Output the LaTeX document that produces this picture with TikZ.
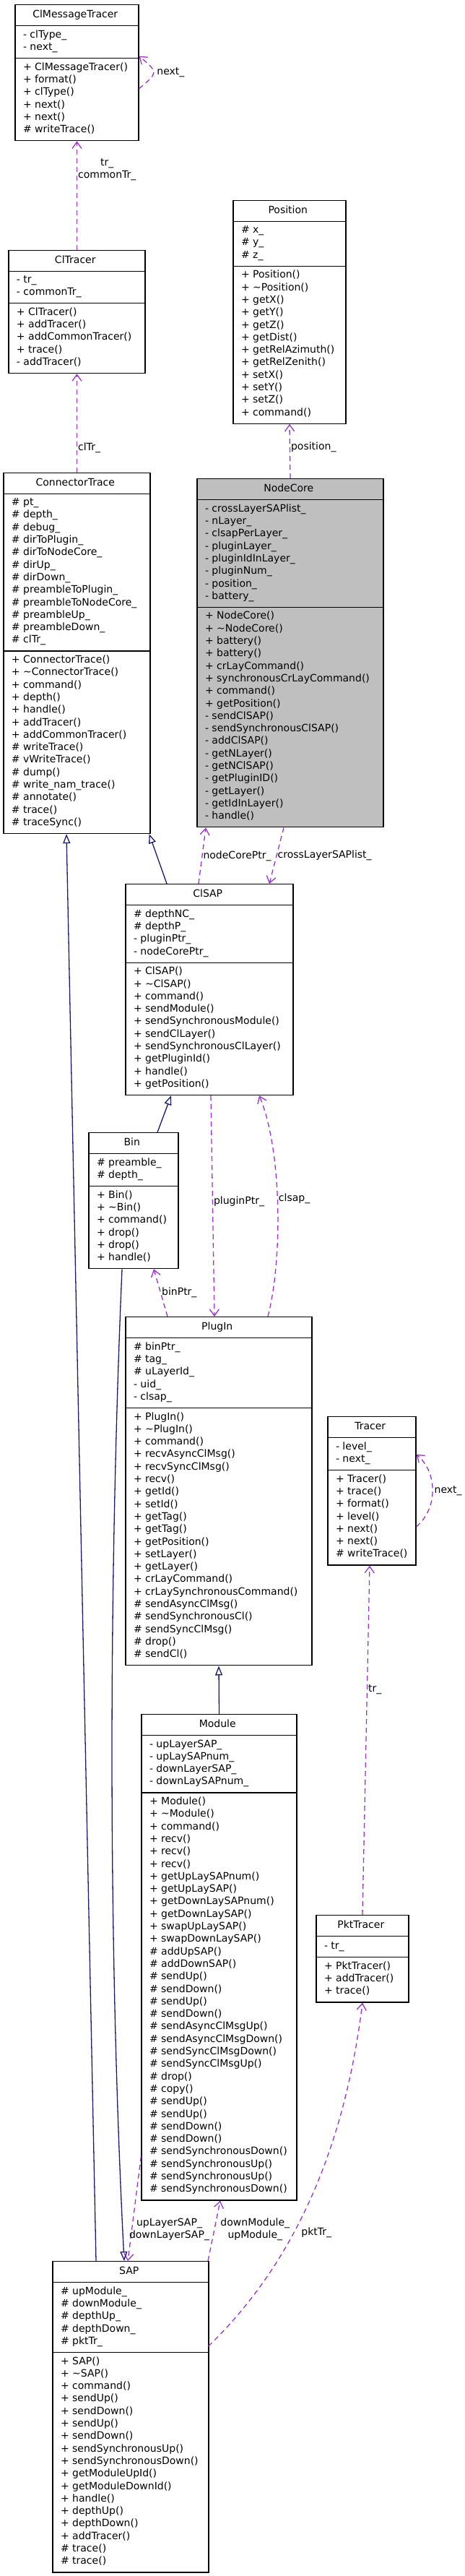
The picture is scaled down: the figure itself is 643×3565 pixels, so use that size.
\documentclass[tikz,border=0pt]{standalone}
\usepackage{fontspec}
\setmainfont{DejaVu Sans}
\usetikzlibrary{shapes.multipart, arrows.meta}
\definecolor{usecol}{HTML}{9A32CD}
\definecolor{inhcol}{HTML}{191970}
\newcommand{\umlfont}{\fontsize{14}{17.3}\selectfont}

\begin{document}
\begin{tikzpicture}[
    x=1pt, y=-1pt,
    cls/.style={draw, line width=1.2pt, fill=white, anchor=north,
                rectangle split, rectangle split parts=3,
                rectangle split part align={center, left, left},
                align=left, inner xsep=11pt, inner ysep=5.3pt,
                minimum width=#1, font=\umlfont,
                execute at begin node=\strut, execute at end node=\strut},
    usg/.style={usecol, line width=1.3pt, dash pattern=on 7pt off 5pt,
                -{Straight Barb[length=9pt, width=13pt]}},
    inh/.style={inhcol, line width=1.3pt,
                -{Triangle[open, length=13pt, width=10pt]}},
    lbl/.style={font=\umlfont, text=black, inner sep=1pt, align=center}
  ]
  \useasboundingbox (0, 0) rectangle (643, 3565);

  \node[cls=171pt] (cmt) at (106.5, 6) {ClMessageTracer
    \nodepart{two}- clType\_\\- next\_
    \nodepart{three}+ ClMessageTracer()\\+ format()\\+ clType()\\+ next()\\+ next()\\\# writeTrace()};
  \node[cls=189pt] (clt) at (106.5, 346) {ClTracer
    \nodepart{two}- tr\_\\- commonTr\_
    \nodepart{three}+ ClTracer()\\+ addTracer()\\+ addCommonTracer()\\+ trace()\\- addTracer()};
  \node[cls=156pt] (pos) at (401, 277) {Position
    \nodepart{two}\# x\_\\\# y\_\\\# z\_
    \nodepart{three}+ Position()\\+ \textasciitilde Position()\\+ getX()\\+ getY()\\+ getZ()\\+ getDist()\\+ getRelAzimuth()\\+ getRelZenith()\\+ setX()\\+ setY()\\+ setZ()\\+ command()};
  \node[cls=203pt] (ct) at (106.5, 654) {ConnectorTrace
    \nodepart{two}\# pt\_\\\# depth\_\\\# debug\_\\\# dirToPlugin\_\\\# dirToNodeCore\_\\\# dirUp\_\\\# dirDown\_\\\# preambleToPlugin\_\\\# preambleToNodeCore\_\\\# preambleUp\_\\\# preambleDown\_\\\# clTr\_
    \nodepart{three}+ ConnectorTrace()\\+ \textasciitilde ConnectorTrace()\\+ command()\\+ depth()\\+ handle()\\+ addTracer()\\+ addCommonTracer()\\\# writeTrace()\\\# vWriteTrace()\\\# dump()\\\# write\_nam\_trace()\\\# annotate()\\\# trace()\\\# traceSync()};
  \node[cls=258pt, fill=gray!50] (nc) at (402, 662) {NodeCore
    \nodepart{two}- crossLayerSAPlist\_\\- nLayer\_\\- clsapPerLayer\_\\- pluginLayer\_\\- pluginIdInLayer\_\\- pluginNum\_\\- position\_\\- battery\_
    \nodepart{three}+ NodeCore()\\+ \textasciitilde NodeCore()\\+ battery()\\+ battery()\\+ crLayCommand()\\+ synchronousCrLayCommand()\\+ command()\\+ getPosition()\\- sendClSAP()\\- sendSynchronousClSAP()\\- addClSAP()\\- getNLayer()\\- getNClSAP()\\- getPluginID()\\- getLayer()\\- getIdInLayer()\\- handle()};
  \node[cls=232pt] (clsap) at (290, 1223) {ClSAP
    \nodepart{two}\# depthNC\_\\\# depthP\_\\- pluginPtr\_\\- nodeCorePtr\_
    \nodepart{three}+ ClSAP()\\+ \textasciitilde ClSAP()\\+ command()\\+ sendModule()\\+ sendSynchronousModule()\\+ sendClLayer()\\+ sendSynchronousClLayer()\\+ getPluginId()\\+ handle()\\+ getPosition()};
  \node[cls=124pt] (bin) at (185, 1567) {Bin
    \nodepart{two}\# preamble\_\\\# depth\_
    \nodepart{three}+ Bin()\\+ \textasciitilde Bin()\\+ command()\\+ drop()\\+ drop()\\+ handle()};
  \node[cls=258pt] (plugin) at (303, 1822) {PlugIn
    \nodepart{two}\# binPtr\_\\\# tag\_\\\# uLayerId\_\\- uid\_\\- clsap\_
    \nodepart{three}+ PlugIn()\\+ \textasciitilde PlugIn()\\+ command()\\+ recvAsyncClMsg()\\+ recvSyncClMsg()\\+ recv()\\+ getId()\\+ setId()\\+ getTag()\\+ getTag()\\+ getPosition()\\+ setLayer()\\+ getLayer()\\+ crLayCommand()\\+ crLaySynchronousCommand()\\\# sendAsyncClMsg()\\\# sendSynchronousCl()\\\# sendSyncClMsg()\\\# drop()\\\# sendCl()};
  \node[cls=122pt] (tracer) at (515, 1960) {Tracer
    \nodepart{two}- level\_\\- next\_
    \nodepart{three}+ Tracer()\\+ trace()\\+ format()\\+ level()\\+ next()\\+ next()\\\# writeTrace()};
  \node[cls=215pt] (module) at (303.5, 2372) {Module
    \nodepart{two}- upLayerSAP\_\\- upLaySAPnum\_\\- downLayerSAP\_\\- downLaySAPnum\_
    \nodepart{three}+ Module()\\+ \textasciitilde Module()\\+ command()\\+ recv()\\+ recv()\\+ recv()\\+ getUpLaySAPnum()\\+ getUpLaySAP()\\+ getDownLaySAPnum()\\+ getDownLaySAP()\\+ swapUpLaySAP()\\+ swapDownLaySAP()\\\# addUpSAP()\\\# addDownSAP()\\\# sendUp()\\\# sendDown()\\\# sendUp()\\\# sendDown()\\\# sendAsyncClMsgUp()\\\# sendAsyncClMsgDown()\\\# sendSyncClMsgDown()\\\# sendSyncClMsgUp()\\\# drop()\\\# copy()\\\# sendUp()\\\# sendUp()\\\# sendDown()\\\# sendDown()\\\# sendSynchronousDown()\\\# sendSynchronousUp()\\\# sendSynchronousUp()\\\# sendSynchronousDown()};
  \node[cls=128pt] (pkttr) at (502, 2650) {PktTracer
    \nodepart{two}- tr\_
    \nodepart{three}+ PktTracer()\\+ addTracer()\\+ trace()};
  \node[cls=216pt] (sap) at (181, 3129) {SAP
    \nodepart{two}\# upModule\_\\\# downModule\_\\\# depthUp\_\\\# depthDown\_\\\# pktTr\_
    \nodepart{three}+ SAP()\\+ \textasciitilde SAP()\\+ command()\\+ sendUp()\\+ sendDown()\\+ sendUp()\\+ sendDown()\\+ sendSynchronousUp()\\+ sendSynchronousDown()\\+ getModuleUpId()\\+ getModuleDownId()\\+ handle()\\+ depthUp()\\+ depthDown()\\+ addTracer()\\\# trace()\\\# trace()};

  \draw[usg] (clt.north) -- node[lbl, anchor=west, pos=0.74] (ltr) {tr\_\\commonTr\_} (cmt.south);
  \draw[usg] ([yshift=-22pt]cmt.east) to[out=40, in=-40, looseness=2]
    node[lbl, anchor=west, pos=0.5, xshift=3pt] (lnexta) {next\_} ([yshift=23pt]cmt.east);
  \draw[usg] (ct.north) -- node[lbl, anchor=west, pos=0.25] (lcltr) {clTr\_} (clt.south);
  \draw[usg] (nc.north) -- node[lbl, anchor=west, pos=0.57] (lpos) {position\_} (pos.south);
  \draw[usg] ([xshift=-15pt]clsap.north) -- node[lbl, anchor=west, pos=0.49] (lncp) {nodeCorePtr\_} ([xshift=-117pt]nc.south);
  \draw[usg] ([xshift=-9pt]nc.south) -- node[lbl, anchor=west, pos=0.5] (lcls) {crossLayerSAPlist\_} ([xshift=83pt]clsap.north);
  \draw[usg] ([xshift=-71pt]plugin.north) -- node[lbl, anchor=west, pos=0.5] (lbin) {binPtr\_} ([xshift=28pt]bin.south);
  \draw[usg] ([xshift=2pt]clsap.south) -- node[lbl, anchor=west, pos=0.48] (lplg) {pluginPtr\_} ([xshift=-6pt]plugin.north);
  \draw[usg] ([xshift=68pt]plugin.north) .. controls (392, 1740) and (390, 1590) ..
    node[lbl, anchor=west, pos=0.52] (lclsap) {clsap\_} ([xshift=69pt]clsap.south);
  \draw[usg] ([yshift=-49.5pt]tracer.east) to[out=40, in=-40, looseness=1]
    node[lbl, anchor=west, pos=0.5, xshift=1pt] (lnextb) {next\_} ([yshift=50.5pt]tracer.east);
  \draw[usg] (pkttr.north) -- node[lbl, anchor=west, pos=0.645] (ltrb) {tr\_} ([xshift=-3pt]tracer.south);
  \draw[usg] ([xshift=-1pt, yshift=-118pt]sap.north east) .. controls (420, 3120) and (480, 2950) ..
    node[lbl, anchor=west, pos=0.37, xshift=9pt] (lpkt) {pktTr\_} (pkttr.south);
  \draw[usg] ([yshift=-612pt]module.north west) -- node[lbl, pos=0.7, xshift=52pt] (lsap) {upLayerSAP\_\\downLayerSAP\_} ([xshift=-4pt]sap.north);
  \draw[usg] ([xshift=107pt]sap.north) -- node[lbl, anchor=west, pos=0.52, xshift=7pt] (lmod) {downModule\_\\upModule\_} ([xshift=1.5pt]module.south);

  \draw[inh] ([xshift=-59pt]clsap.north) -- ([xshift=-2pt]ct.south east);
  \draw[inh] ([xshift=-48pt]sap.north) -- ([xshift=-14.5pt]ct.south);
  \draw[inh] ([xshift=33pt]bin.north) -- ([xshift=-53pt]clsap.south);
  \draw[inh] (module.north) -- (plugin.south);
  \draw[inh] ([xshift=-16pt]bin.south) .. controls (150, 2200) and (150, 2700) .. ([xshift=-9pt]sap.north);
\end{tikzpicture}
\end{document}
